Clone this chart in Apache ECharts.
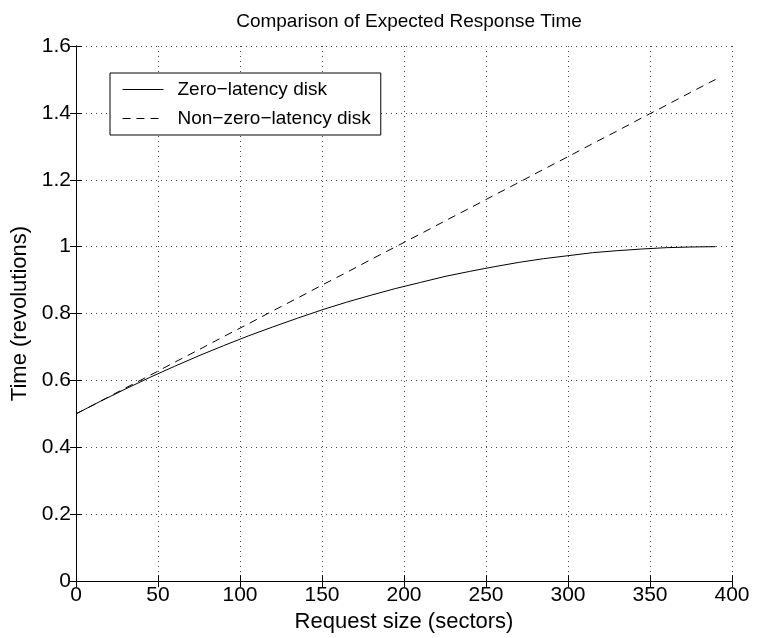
<!DOCTYPE html>
<html><head><meta charset="utf-8">
<script src="https://cdn.jsdelivr.net/npm/echarts@6/dist/echarts.min.js"></script>
<style>html,body{margin:0;padding:0;background:#fff}#c{width:773px;height:638px}</style>
</head><body><div id="c"></div>
<script>
const sizes = [0,15,30,45,60,75,90,105,120,135,150,165,180,195,210,225,240,255,270,285,300,315,330,345,360,375,390];
const zeroLatency = [0.500,0.538,0.574,0.609,0.642,0.674,0.704,0.733,0.760,0.786,0.811,0.834,0.855,0.875,0.893,0.911,0.926,0.940,0.953,0.964,0.973,0.982,0.988,0.993,0.997,0.999,1.000];
const nonZeroLatency = [0.500,0.538,0.577,0.615,0.654,0.692,0.731,0.769,0.808,0.846,0.885,0.923,0.962,1.000,1.038,1.077,1.115,1.154,1.192,1.231,1.269,1.308,1.346,1.385,1.423,1.462,1.500];
const seriesNames = ['Zero\u2212latency disk','Non\u2212zero\u2212latency disk'];
const titleText = 'Comparison of Expected Response Time';
const xName = 'Request size (sectors)';
const yName = 'Time (revolutions)';

const font = 'Liberation Sans, Arial, Helvetica, sans-serif';
const chart = echarts.init(document.getElementById('c'));
const gridDots = {show:true, lineStyle:{color:'#444', type:[1,4], width:1}};
const axisLine = {show:true, lineStyle:{color:'#000', width:1}};
const ticks = {show:true, inside:true, length:6, lineStyle:{color:'#000'}};
chart.setOption({
  animation:false,
  backgroundColor:'#fff',
  title:{text:titleText, left:404, textAlign:'center', top:7,
    textStyle:{fontFamily:font, fontSize:19, fontWeight:'normal', color:'#000'}},
  grid:{left:76, right:41, top:46, bottom:54},
  legend:{orient:'vertical', left:110, top:73, backgroundColor:'#fff',
    borderColor:'#000', borderWidth:1, borderRadius:0, padding:[7,10,7,12], itemGap:10,
    itemWidth:41, itemHeight:14,
    itemStyle:{opacity:0},
    lineStyle:{width:1},
    textStyle:{fontFamily:font, fontSize:19, color:'#000', padding:[0,0,0,9]}},
  xAxis:[
    {type:'value', min:0, max:400, interval:50, position:'bottom',
     name:xName, nameLocation:'middle', nameGap:25,
     nameTextStyle:{fontFamily:font, fontSize:22, color:'#000'},
     axisLine:axisLine, axisTick:ticks, splitLine:gridDots,
     axisLabel:{fontFamily:font, fontSize:21, color:'#000', margin:4}},
    {type:'value', min:0, max:400, interval:50, position:'top',
     axisLine:axisLine, axisTick:ticks, splitLine:{show:false}, axisLabel:{show:false}}
  ],
  yAxis:[
    {type:'value', min:0, max:1.6, interval:0.2, position:'left',
     name:yName, nameLocation:'middle', nameGap:45,
     nameTextStyle:{fontFamily:font, fontSize:22, color:'#000'},
     axisLine:axisLine, axisTick:ticks, splitLine:gridDots,
     axisLabel:{fontFamily:font, fontSize:21, color:'#000', margin:5}},
    {type:'value', min:0, max:1.6, interval:0.2, position:'right',
     axisLine:axisLine, axisTick:ticks, splitLine:{show:false}, axisLabel:{show:false}}
  ],
  series:[
    {name:seriesNames[0], type:'line', symbol:'none', smooth:false,
     data:sizes.map((s,i)=>[s, zeroLatency[i]]),
     lineStyle:{color:'#000', width:1, type:'solid'}, itemStyle:{color:'#000'}},
    {name:seriesNames[1], type:'line', symbol:'none', smooth:false,
     data:sizes.map((s,i)=>[s, nonZeroLatency[i]]),
     lineStyle:{color:'#000', width:1, type:[8,6]}, itemStyle:{color:'#000'}}
  ]
});
</script></body></html>
